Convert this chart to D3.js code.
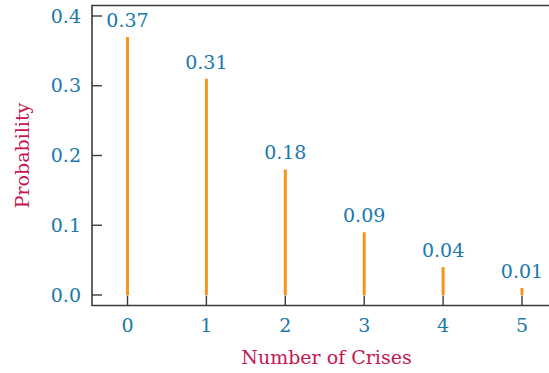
<!DOCTYPE html>
<html><head><meta charset="utf-8">
<script src="https://cdn.jsdelivr.net/npm/d3@7/dist/d3.min.js"></script>
<style>body{margin:0;background:#fff}svg{display:block}</style>
</head><body><svg id="c" width="549" height="373"></svg>
<script>
const categories = [0, 1, 2, 3, 4, 5];
const probabilities = [0.37, 0.31, 0.18, 0.09, 0.04, 0.01];
const valueLabels = ["0.37", "0.31", "0.18", "0.09", "0.04", "0.01"];
const yTicks = [0.0, 0.1, 0.2, 0.3, 0.4];
const xTitle = "Number of Crises";
const yTitle = "Probability";

(function () {
const blue = "#1a78ad", red = "#c5174f", orange = "#f7941d", axisCol = "#3a3a3a";
const font = "DejaVu Serif";
const svg = d3.select("#c");
const x = d3.scaleLinear().domain([0, 5]).range([127.5, 522]);
const y = d3.scaleLinear().domain([0, 0.4]).range([295, 16]);

const fLeft = x(-0.45), fRight = 549, fTop = 5.5, fBottom = 305.5;

svg.append("path").attr("d", `M${fRight},${fTop}H${fLeft}V${fBottom}H${fRight}`)
  .attr("fill", "none").attr("stroke", axisCol).attr("stroke-width", 1.6);

const yAxis = svg.append("g");
yTicks.forEach(t => {
  yAxis.append("line").attr("x1", fLeft).attr("x2", fLeft + 10)
    .attr("y1", y(t)).attr("y2", y(t)).attr("stroke", axisCol).attr("stroke-width", 1.4);
  yAxis.append("text").attr("x", fLeft - 11).attr("y", y(t)).attr("dy", "0.35em")
    .attr("text-anchor", "end").attr("fill", blue).attr("font-family", font)
    .attr("font-size", 19).text(d3.format(".1f")(t));
});

svg.append("g").selectAll("line").data(categories).join("line")
  .attr("x1", d => x(d)).attr("x2", d => x(d))
  .attr("y1", y(0)).attr("y2", (d, i) => y(probabilities[i]))
  .attr("stroke", orange).attr("stroke-width", 3);

const xAxis = svg.append("g");
categories.forEach(c => {
  xAxis.append("line").attr("x1", x(c)).attr("x2", x(c))
    .attr("y1", fBottom).attr("y2", fBottom - 10).attr("stroke", axisCol).attr("stroke-width", 1.4);
  xAxis.append("text").attr("x", x(c)).attr("y", 332)
    .attr("text-anchor", "middle").attr("fill", blue).attr("font-family", font)
    .attr("font-size", 19).text(c);
});

svg.append("g").selectAll("text").data(categories).join("text")
  .attr("x", d => x(d)).attr("y", (d, i) => y(probabilities[i]) - 10)
  .attr("text-anchor", "middle").attr("fill", blue).attr("font-family", font)
  .attr("font-size", 19).text((d, i) => valueLabels[i]);

svg.append("text").attr("x", (fLeft + fRight) / 2 + 6).attr("y", 364)
  .attr("text-anchor", "middle").attr("fill", red).attr("font-family", font)
  .attr("font-size", 19).text(xTitle);
svg.append("text").attr("transform", `translate(29,${(fTop + fBottom) / 2}) rotate(-90)`)
  .attr("text-anchor", "middle").attr("fill", red).attr("font-family", font)
  .attr("font-size", 19).text(yTitle);
})();
</script></body></html>
